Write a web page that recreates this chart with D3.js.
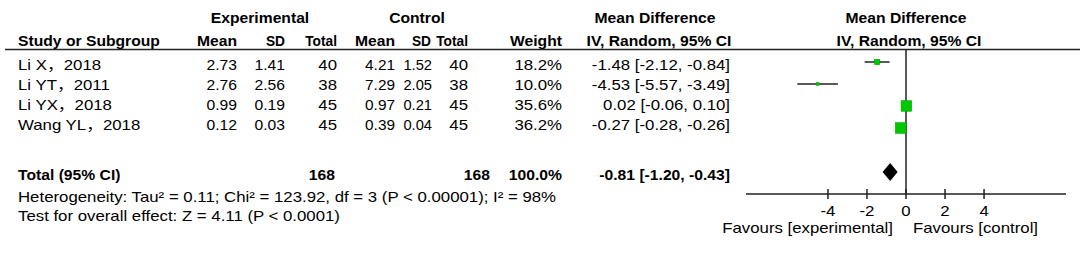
<!DOCTYPE html>
<html>
<head>
<meta charset="utf-8">
<script src="https://cdn.jsdelivr.net/npm/d3@7"></script>
<style>
  body { margin: 0; background: #fff; }
  svg text { font-family: Arial, "Liberation Sans", "Noto Sans CJK SC", sans-serif; font-size: 14px; fill: #000; }
  .b { font-weight: bold; }
</style>
</head>
<body>
<svg id="chart" width="1084" height="253"></svg>
<script>
// study data
var studies = ["Li X，2018", "Li YT，2011", "Li YX，2018", "Wang YL，2018"];
var expMean = [2.73, 2.76, 0.99, 0.12];
var expSD = [1.41, 2.56, 0.19, 0.03];
var expN = [40, 38, 45, 45];
var ctlMean = [4.21, 7.29, 0.97, 0.39];
var ctlSD = [1.52, 2.05, 0.21, 0.04];
var ctlN = [40, 38, 45, 45];
var weights = [18.2, 10.0, 35.6, 36.2];
var md = [-1.48, -4.53, 0.02, -0.27];
var ciLow = [-2.12, -5.57, -0.06, -0.28];
var ciHigh = [-0.84, -3.49, 0.10, -0.26];
// pooled
var totalMD = -0.81, totalLow = -1.20, totalHigh = -0.43;
var totalExpN = 168, totalCtlN = 168;
var ticks = [-4, -2, 0, 2, 4];

var svg = d3.select("#chart");

var y = d3.scaleBand().domain(studies).range([55, 135]);      // table rows
var yPlot = d3.scaleBand().domain(studies).range([51, 139]);  // plot rows (a bit more spread)
var x = d3.scaleLinear().domain([-8.2, 8.2]).range([746, 1066]);
var side = d3.scaleLinear().domain([0, 40]).range([0, 12]);

var totalY = 175;
var diamondY = 172;
function fmt2(v) { return v.toFixed(2); }

// text is drawn a bit wider than normal, like the source
function txt(xp, yp, s, anchor, cls, sx) {
    if (sx === undefined) sx = cls == "b" ? 1.12 : 1.2;
    return svg.append("text")
        .attr("transform", "translate(" + xp + "," + yp + ") scale(" + sx + ",1)")
        .attr("text-anchor", anchor || "start")
        .attr("class", cls || null).text(s);
}
// header text
txt(260, 23, "Experimental", "middle", "b");
txt(417, 23, "Control", "middle", "b");
txt(655, 23, "Mean Difference", "middle", "b");
txt(906, 23, "Mean Difference", "middle", "b");
txt(18, 46, "Study or Subgroup", "start", "b");
var hdr = [[237, "Mean"], [285, "SD"], [337, "Total"], [395, "Mean"], [431, "SD"], [468, "Total"], [562, "Weight"]];
hdr.forEach(function(h) {
    var sx = (h[1] == "Total" || h[1] == "SD") ? 0.98 : 1.12;
    txt(h[0], 46, h[1], "end", "b", sx);
});
txt(659, 46, "IV, Random, 95% CI", "middle", "b");
txt(909, 46, "IV, Random, 95% CI", "middle", "b");

svg.append("line").attr("x1", 5).attr("x2", 1080).attr("y1", 49.5).attr("y2", 49.5)
    .attr("stroke", "#222").attr("stroke-width", 1.5);

// table rows
studies.forEach(function(s, i) {
    var yy = y(s) + y.bandwidth() / 2 + 5;
    txt(18, yy, s);
    txt(237, yy, fmt2(expMean[i]), "end", null, 1.12);
    txt(285, yy, fmt2(expSD[i]), "end", null, 1.12);
    txt(337, yy, expN[i], "end");
    txt(395, yy, fmt2(ctlMean[i]), "end", null, 1.1);
    txt(432, yy, fmt2(ctlSD[i]), "end", null, 1.05);
    txt(468, yy, ctlN[i], "end");
    txt(562, yy, weights[i].toFixed(1) + "%", "end");
    txt(730, yy, fmt2(md[i]) + " [" + fmt2(ciLow[i]) + ", " + fmt2(ciHigh[i]) + "]", "end");
});

// total rows
txt(18, totalY + 5, "Total (95% CI)", "start", "b");
txt(335, totalY + 5, totalExpN, "end", "b");
txt(490, totalY + 5, totalCtlN, "end", "b");
txt(562, totalY + 5, "100.0%", "end", "b");
txt(730, totalY + 5, fmt2(totalMD) + " [" + fmt2(totalLow) + ", " + fmt2(totalHigh) + "]", "end", "b");
txt(18, 202, "Heterogeneity: Tau² = 0.11; Chi² = 123.92, df = 3 (P < 0.00001); I² = 98%");
txt(18, 221, "Test for overall effect: Z = 4.11 (P < 0.0001)");

// plot: zero line and axis
var axisY = 194;
svg.append("line").attr("x1", x(0)).attr("x2", x(0)).attr("y1", 49.5).attr("y2", axisY)
    .attr("stroke", "#222").attr("stroke-width", 1.5);
svg.append("line").attr("x1", x(-8.2)).attr("x2", x(8.2)).attr("y1", axisY).attr("y2", axisY)
    .attr("stroke", "#222").attr("stroke-width", 1.5);
ticks.forEach(function(t) {
    svg.append("line").attr("x1", x(t)).attr("x2", x(t)).attr("y1", axisY - 5).attr("y2", axisY + 5)
        .attr("stroke", "#222").attr("stroke-width", 1.5);
    txt(x(t), 216, t, "middle");
});
txt(893, 233, "Favours [experimental]", "end");
txt(913, 233, "Favours [control]", "start");

// CI lines and squares
studies.forEach(function(s, i) {
    var cy = yPlot(s) + yPlot.bandwidth() / 2;
    svg.append("line").attr("x1", x(ciLow[i])).attr("x2", x(ciHigh[i]))
        .attr("y1", cy).attr("y2", cy).attr("stroke", "#222").attr("stroke-width", 1.5);
    var w = side(weights[i]);
    svg.append("rect").attr("x", x(md[i]) - w / 2).attr("y", cy - w / 2)
        .attr("width", w).attr("height", w)
        .attr("fill", "#00c800").attr("stroke", "#00a000").attr("stroke-width", 0.5);
});

// pooled diamond
svg.append("path")
    .attr("d", "M" + x(totalLow) + "," + diamondY + "L" + x(totalMD) + "," + (diamondY - 9) +
        "L" + x(totalHigh) + "," + diamondY + "L" + x(totalMD) + "," + (diamondY + 9) + "Z")
    .attr("fill", "#000");
</script>
</body>
</html>
